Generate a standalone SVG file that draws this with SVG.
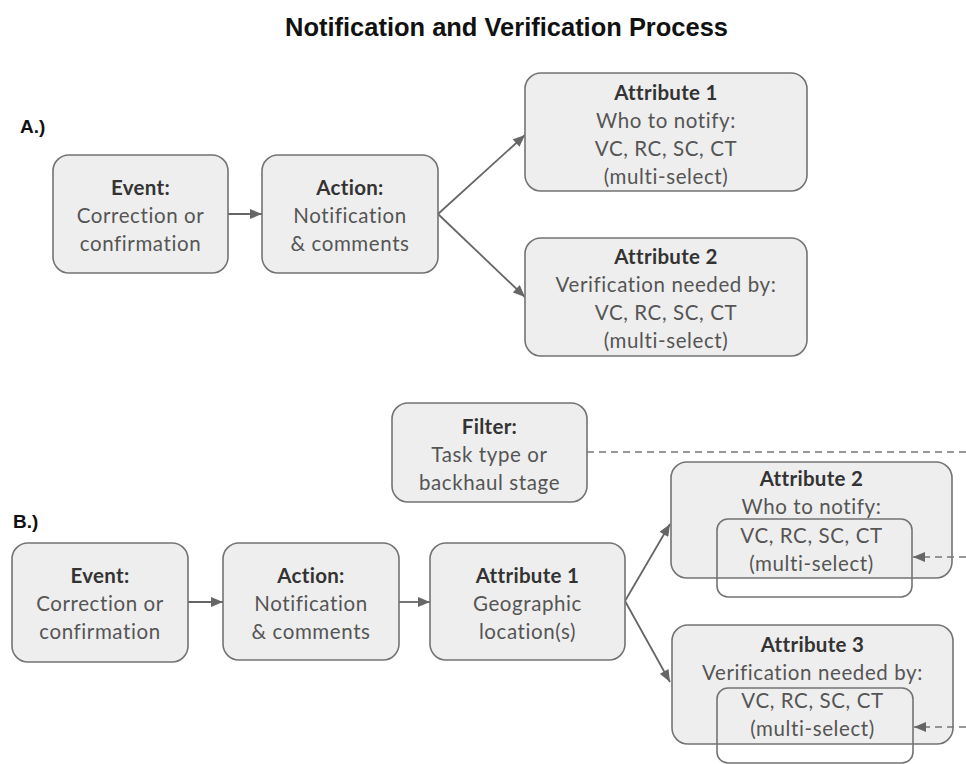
<svg xmlns="http://www.w3.org/2000/svg" width="966" height="764" viewBox="0 0 966 764">
  <style>
    .box { fill: #eeeeee; stroke: #737373; stroke-width: 1.6; }
    .inner { fill: none; stroke: #737373; stroke-width: 1.6; }
    .hd { font-family: Lato, "Open Sans", sans-serif; font-size: 20.5px; font-weight: bold; fill: #333333; text-anchor: middle; letter-spacing: 0.3px; }
    .tx { font-family: Lato, "Open Sans", sans-serif; font-size: 20.5px; fill: #555555; text-anchor: middle; letter-spacing: 0.6px; }
    .lbl { font-family: "Liberation Sans", Arial, sans-serif; font-size: 19px; font-weight: bold; fill: #111111; }
    .ttl { font-family: "Liberation Sans", Arial, sans-serif; font-size: 25px; font-weight: bold; fill: #111111; text-anchor: middle; }
    .edge { stroke: #666666; stroke-width: 1.8; fill: none; }
    .dash { stroke: #777777; stroke-width: 1.6; fill: none; stroke-dasharray: 7 5; }
  </style>
  <defs>
    <marker id="arrow" viewBox="0 0 12 10" refX="12" refY="5" markerWidth="13" markerHeight="10" markerUnits="userSpaceOnUse" orient="auto">
      <path d="M0,0 L12,5 L0,10 Z" fill="#666666"/>
    </marker>
  </defs>

  <rect width="966" height="764" fill="#ffffff"/>

  <text class="ttl" x="506.5" y="36" textLength="443" lengthAdjust="spacingAndGlyphs">Notification and Verification Process</text>
  <text class="lbl" x="20" y="133">A.)</text>
  <text class="lbl" x="13" y="528">B.)</text>

  <!-- connectors -->
  <g id="connectors">
    <line class="edge" x1="228" y1="214" x2="262" y2="214" marker-end="url(#arrow)"/>
    <line class="edge" x1="438" y1="214" x2="525" y2="135" marker-end="url(#arrow)"/>
    <line class="edge" x1="438" y1="214" x2="525" y2="297" marker-end="url(#arrow)"/>
    <line class="edge" x1="188" y1="602" x2="223" y2="602" marker-end="url(#arrow)"/>
    <line class="edge" x1="399" y1="602" x2="430" y2="602" marker-end="url(#arrow)"/>
    <line class="edge" x1="625" y1="601" x2="670" y2="524" marker-end="url(#arrow)"/>
    <line class="edge" x1="625" y1="601" x2="670" y2="682" marker-end="url(#arrow)"/>
    <line class="dash" x1="587" y1="452" x2="966" y2="452"/>
  </g>

  <!-- section A -->
  <g id="a-event">
    <rect class="box" x="53" y="155" width="175" height="118" rx="16"/>
    <text class="hd" x="140.5" y="195">Event:</text>
    <text class="tx" x="140.5" y="223">Correction or</text>
    <text class="tx" x="140.5" y="251">confirmation</text>
  </g>
  <g id="a-action">
    <rect class="box" x="262" y="155" width="176" height="118" rx="16"/>
    <text class="hd" x="350" y="195">Action:</text>
    <text class="tx" x="350" y="223">Notification</text>
    <text class="tx" x="350" y="251">&amp; comments</text>
  </g>
  <g id="a-attr1">
    <rect class="box" x="525" y="73" width="282" height="118" rx="16"/>
    <text class="hd" x="666" y="100">Attribute 1</text>
    <text class="tx" x="666" y="128">Who to notify:</text>
    <text class="tx" x="666" y="156">VC, RC, SC, CT</text>
    <text class="tx" x="666" y="184">(multi-select)</text>
  </g>
  <g id="a-attr2">
    <rect class="box" x="525" y="238" width="282" height="118" rx="16"/>
    <text class="hd" x="666" y="264">Attribute 2</text>
    <text class="tx" x="666" y="292">Verification needed by:</text>
    <text class="tx" x="666" y="320">VC, RC, SC, CT</text>
    <text class="tx" x="666" y="348">(multi-select)</text>
  </g>

  <!-- section B -->
  <g id="b-filter">
    <rect class="box" x="392" y="403" width="195" height="99" rx="16"/>
    <text class="hd" x="489.5" y="434">Filter:</text>
    <text class="tx" x="489.5" y="462">Task type or</text>
    <text class="tx" x="489.5" y="490">backhaul stage</text>
  </g>
  <g id="b-event">
    <rect class="box" x="12" y="543" width="176" height="119" rx="16"/>
    <text class="hd" x="100" y="583">Event:</text>
    <text class="tx" x="100" y="611">Correction or</text>
    <text class="tx" x="100" y="639">confirmation</text>
  </g>
  <g id="b-action">
    <rect class="box" x="223" y="543" width="176" height="117" rx="16"/>
    <text class="hd" x="311" y="583">Action:</text>
    <text class="tx" x="311" y="611">Notification</text>
    <text class="tx" x="311" y="639">&amp; comments</text>
  </g>
  <g id="b-attr1">
    <rect class="box" x="430" y="543" width="195" height="117" rx="16"/>
    <text class="hd" x="527.5" y="583">Attribute 1</text>
    <text class="tx" x="527.5" y="611">Geographic</text>
    <text class="tx" x="527.5" y="639">location(s)</text>
  </g>
  <g id="b-attr2">
    <rect class="box" x="671" y="462" width="281" height="116" rx="16"/>
    <rect class="inner" x="717" y="519" width="195" height="78" rx="11"/>
    <text class="hd" x="811.5" y="486">Attribute 2</text>
    <text class="tx" x="811.5" y="514">Who to notify:</text>
    <text class="tx" x="811.5" y="543">VC, RC, SC, CT</text>
    <text class="tx" x="811.5" y="571">(multi-select)</text>
  </g>
  <g id="b-attr3">
    <rect class="box" x="672" y="625" width="281" height="119" rx="16"/>
    <rect class="inner" x="717" y="688" width="196" height="75" rx="11"/>
    <text class="hd" x="812.5" y="652">Attribute 3</text>
    <text class="tx" x="812.5" y="680">Verification needed by:</text>
    <text class="tx" x="812.5" y="708">VC, RC, SC, CT</text>
    <text class="tx" x="812.5" y="736">(multi-select)</text>
  </g>

  <!-- dashed feeds from the filter line into the selections -->
  <g id="filter-feeds">
    <line class="dash" x1="966" y1="557" x2="913" y2="557" marker-end="url(#arrow)"/>
    <line class="dash" x1="966" y1="727" x2="914" y2="727" marker-end="url(#arrow)"/>
  </g>
</svg>
